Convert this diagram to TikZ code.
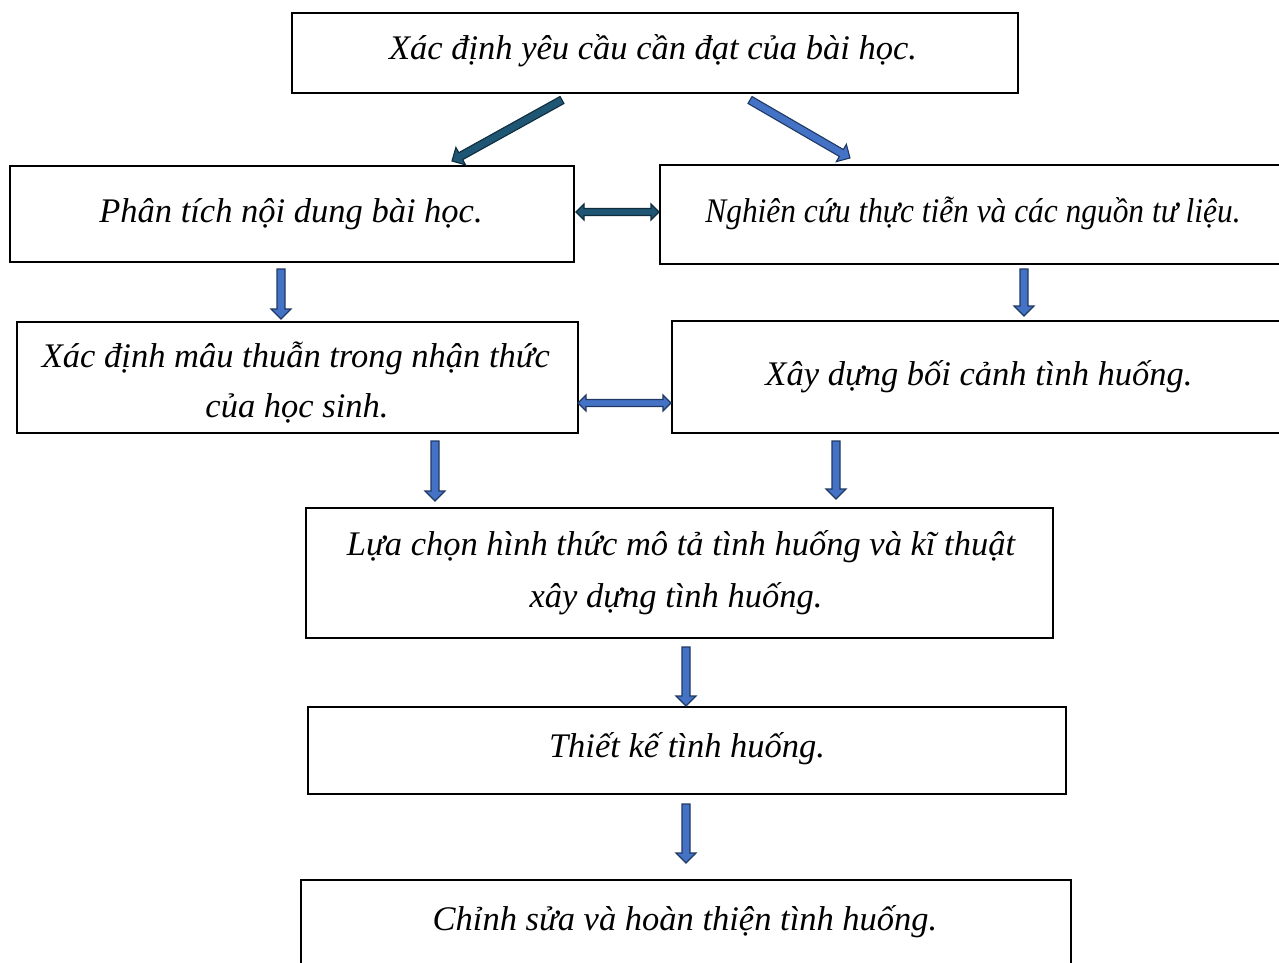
\documentclass[tikz,border=0pt]{standalone}
\usepackage{fontspec}
\setmainfont{Liberation Serif}
\usetikzlibrary{calc}
\definecolor{tealF}{HTML}{1F5673}
\definecolor{tealD}{HTML}{0F2D3D}
\definecolor{blueF}{HTML}{4472C4}
\definecolor{blueD}{HTML}{203864}
\newcommand\blockarrow[3]{%
  \filldraw[#3] let \p1=($(#2)-(#1)$), \n1={veclen(\x1,\y1)}, \n2={atan2(\y1,\x1)} in
  [shift={(#1)}, rotate=\n2] (0,-4) -- ({\n1-10},-4) -- ({\n1-10},-10) -- (\n1,0) -- ({\n1-10},10) -- ({\n1-10},4) -- (0,4) -- cycle;}
\newcommand\dblarrow[3]{%
  \filldraw[#3] let \p1=($(#2)-(#1)$), \n1={veclen(\x1,\y1)}, \n2={atan2(\y1,\x1)} in
  [shift={(#1)}, rotate=\n2] (0,0) -- (8,-8) -- (8,-3.5) -- ({\n1-8},-3.5) -- ({\n1-8},-8) -- (\n1,0) -- ({\n1-8},8) -- ({\n1-8},3.5) -- (8,3.5) -- (8,8) -- cycle;}
\begin{document}
\begin{tikzpicture}[x=1pt,y=-1pt,
  box/.style={draw=black, line width=2.6pt, inner sep=0pt, rectangle},
  txt/.style={font=\fontsize{34.5}{51}\selectfont\itshape, inner sep=0pt, anchor=base, align=center},
  tealarr/.style={fill=tealF, draw=tealD, line width=1.1pt, line join=miter},
  bluearr/.style={fill=blueF, draw=blueD, line width=1.1pt, line join=miter}]
\useasboundingbox (0,0) rectangle (1279,962);
\clip (0,0) rectangle (1279,962);
% boxes
\node[box, minimum width=726pt, minimum height=80pt] (b1) at (655,53) {};
\node[box, minimum width=564pt, minimum height=96pt] (b2) at (292,214) {};
\node[box, minimum width=640pt, minimum height=99pt] (b3) at (980,214.5) {};
\node[box, minimum width=561pt, minimum height=111pt] (b4) at (297.5,377.5) {};
\node[box, minimum width=628pt, minimum height=112pt] (b5) at (986,377) {};
\node[box, minimum width=747pt, minimum height=130pt] (b6) at (679.5,573) {};
\node[box, minimum width=758pt, minimum height=87pt] (b7) at (687,750.5) {};
\node[box, minimum width=770pt, minimum height=110pt] (b8) at (686,935) {};
% texts
\node[txt] (t1) at (653,59) {Xác định yêu cầu cần đạt của bài học.};
\node[txt] (t2) at (291,222) {Phân tích nội dung bài học.};
\node[txt] (t3) at (973,222) {\scalebox{0.91}[1]{Nghiên cứu thực tiễn và các nguồn tư liệu.}};
\node[txt] (t4a) at (296,367) {Xác định mâu thuẫn trong nhận thức};
\node[txt] (t4b) at (297,417) {của học sinh.};
\node[txt] (t5) at (979,385) {Xây dựng bối cảnh tình huống.};
\node[txt] (t6a) at (681,555) {Lựa chọn hình thức mô tả tình huống và kĩ thuật};
\node[txt] (t6b) at (676,607) {xây dựng tình huống.};
\node[txt] (t7) at (687,757) {Thiết kế tình huống.};
\node[txt] (t8) at (685,930) {Chỉnh sửa và hoàn thiện tình huống.};
% arrow end points
\coordinate (a1s) at (562,100); \coordinate (a1e) at (452,161);
\coordinate (a2s) at (750,100); \coordinate (a2e) at (850,158);
\coordinate (d1s) at (576,212); \coordinate (d1e) at (659,212);
\coordinate (d2s) at (578,403); \coordinate (d2e) at (671,403);
\coordinate (v1s) at (281,269); \coordinate (v1e) at (281,319);
\coordinate (v2s) at (1024,269); \coordinate (v2e) at (1024,316);
\coordinate (v3s) at (435,441); \coordinate (v3e) at (435,501);
\coordinate (v4s) at (836,441); \coordinate (v4e) at (836,499);
\coordinate (v5s) at (686,647); \coordinate (v5e) at (686,706);
\coordinate (v6s) at (686,804); \coordinate (v6e) at (686,863);
\blockarrow{a1s}{a1e}{tealarr}
\blockarrow{a2s}{a2e}{bluearr}
\dblarrow{d1s}{d1e}{tealarr}
\dblarrow{d2s}{d2e}{bluearr}
\blockarrow{v1s}{v1e}{bluearr}
\blockarrow{v2s}{v2e}{bluearr}
\blockarrow{v3s}{v3e}{bluearr}
\blockarrow{v4s}{v4e}{bluearr}
\blockarrow{v5s}{v5e}{bluearr}
\blockarrow{v6s}{v6e}{bluearr}
\end{tikzpicture}
\end{document}
